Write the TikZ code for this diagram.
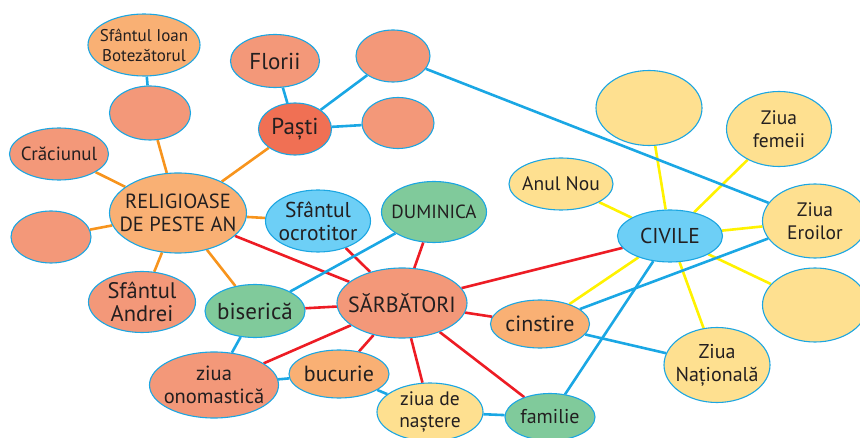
\documentclass[tikz,border=0pt]{standalone}
\usepackage{fontspec}
\setmainfont{PT Sans}
\usetikzlibrary{shapes.geometric, backgrounds}

\definecolor{rim}{HTML}{1BA6E2}
\definecolor{ink}{HTML}{231F20}
\definecolor{salmonfill}{HTML}{F39879}
\definecolor{orangefill}{HTML}{F9B074}
\definecolor{pastifill}{HTML}{F07054}
\definecolor{skyfill}{HTML}{6DCFF6}
\definecolor{greenfill}{HTML}{80CA9B}
\definecolor{yellowfill}{HTML}{FEE090}
\definecolor{orangeline}{HTML}{F7941D}
\definecolor{redline}{HTML}{ED1C24}
\definecolor{blueline}{HTML}{1AA7E4}
\definecolor{yellowline}{HTML}{FFF200}

\newcommand{\fsz}[2]{\fontsize{#1}{#2}\selectfont}

\begin{document}
\begin{tikzpicture}[
    x=1pt, y=-1pt,
    bubble/.style={ellipse, draw=rim, line width=1.1pt, inner xsep=-18pt,
      inner ysep=-5pt, align=center, text=ink, font=\fsz{19}{23}},
    salmonb/.style={bubble, fill=salmonfill},
    orangeb/.style={bubble, fill=orangefill},
    pastib/.style={bubble, fill=pastifill},
    skyb/.style={bubble, fill=skyfill},
    greenb/.style={bubble, fill=greenfill},
    yellowb/.style={bubble, fill=yellowfill},
    size/.style 2 args={minimum width=#1pt, minimum height=#2pt},
    oline/.style={draw=orangeline, line width=2.6pt},
    rline/.style={draw=redline, line width=2.6pt},
    bline/.style={draw=blueline, line width=2.6pt},
    yline/.style={draw=yellowline, line width=2.6pt}
  ]
  \useasboundingbox (0,0) rectangle (860,438);

  % sarbatori religioase
  \node[orangeb, size={112}{62}, font=\fsz{17}{20}] (ioan) at (144,45) {Sfântul Ioan\\Botezătorul};
  \node[salmonb, size={81}{54}] (blankA) at (150,113) {};
  \node[salmonb, size={89}{53}, font=\fsz{23}{25}] (florii) at (275,61) {Florii};
  \node[pastib, size={73}{52}, font=\fsz{23}{25}] (pasti) at (295,129) {Paști};
  \node[salmonb, size={74}{52}] (blankB) at (393,56) {};
  \node[salmonb, size={72}{51}] (blankC) at (398,123) {};
  \node[salmonb, size={99}{52}, font=\fsz{19}{23}] (craciun) at (59,154) {Crăciunul};
  \node[orangeb, size={137}{80}, font=\fsz{20.5}{23}] (relig) at (178,213) {RELIGIOASE\\DE PESTE AN};
  \node[salmonb, size={80}{52}] (blankD) at (51,237) {};
  \node[salmonb, size={107}{61}, font=\fsz{22.5}{23}] (andrei) at (142,302) {Sfântul\\Andrei};

  % centru
  \node[skyb, size={105}{62}, font=\fsz{21.5}{23}] (ocrot) at (318,221) {Sfântul\\ocrotitor};
  \node[greenb, size={105}{61}, font=\fsz{19}{20}] (dumin) at (434,212) {DUMINICA};
  \node[greenb, size={100}{53}, font=\fsz{23}{25}] (biser) at (255,311) {biserică};
  \node[salmonb, size={130}{70}, font=\fsz{22}{25}] (sarb) at (402,303) {SĂRBĂTORI};
  \node[salmonb, size={129}{66}, font=\fsz{20.5}{23}] (onom) at (214,385) {ziua\\onomastică};
  \node[orangeb, size={100}{48}, font=\fsz{22}{23}] (bucur) at (339,374) {bucurie};
  \node[yellowb, size={106}{58}, font=\fsz{19.5}{22}] (naste) at (430,412) {ziua de\\naștere};
  \node[greenb, size={90}{47}, font=\fsz{20}{23}] (famil) at (550,417) {familie};
  \node[orangeb, size={99}{48}, font=\fsz{22}{23}] (cinst) at (540,324) {cinstire};

  % sarbatori civile
  \node[skyb, size={105}{52}, font=\fsz{21.5}{23}] (civil) at (670,236) {CIVILE};
  \node[yellowb, size={104}{52}, font=\fsz{19.5}{22}] (anul) at (561,184) {Anul Nou};
  \node[yellowb, size={106}{75}] (blankE) at (649,108) {};
  \node[yellowb, size={105}{75}, font=\fsz{19.5}{23}] (femei) at (779,129) {Ziua\\femeii};
  \node[yellowb, size={105}{74}, font=\fsz{19.5}{23}] (eroi) at (815,221) {Ziua\\Eroilor};
  \node[yellowb, size={105}{74}] (blankF) at (815,305) {};
  \node[yellowb, size={106}{75}, font=\fsz{20}{23}] (natio) at (717,365) {Ziua\\Națională};

  \begin{pgfonlayer}{background}
    % legaturi portocalii
    \foreach \t in {craciun, blankA, pasti, blankD, andrei, biser, ocrot}
      \draw[oline] (relig) -- (\t);

    % legaturi rosii
    \foreach \t in {relig, ocrot, dumin, biser, onom, bucur, naste, famil, cinst, civil}
      \draw[rline] (sarb) -- (\t);

    % legaturi galbene
    \foreach \t in {anul, blankE, femei, eroi, blankF, natio, cinst}
      \draw[yline] (civil) -- (\t);

    % legaturi albastre
    \draw[bline] (ioan) -- (blankA);
    \draw[bline] (florii) -- (pasti);
    \draw[bline] (pasti) -- (blankB);
    \draw[bline] (pasti) -- (blankC);
    \draw[bline] (blankB) -- (eroi);
    \draw[bline] (dumin) -- (biser);
    \draw[bline] (biser) -- (onom);
    \draw[bline] (onom) -- (bucur);
    \draw[bline] (bucur) -- (naste);
    \draw[bline] (naste) -- (famil);
    \draw[bline] (famil) -- (civil);
    \draw[bline] (cinst) -- (eroi);
    \draw[bline] (cinst) -- (natio);
  \end{pgfonlayer}

\end{tikzpicture}
\end{document}
